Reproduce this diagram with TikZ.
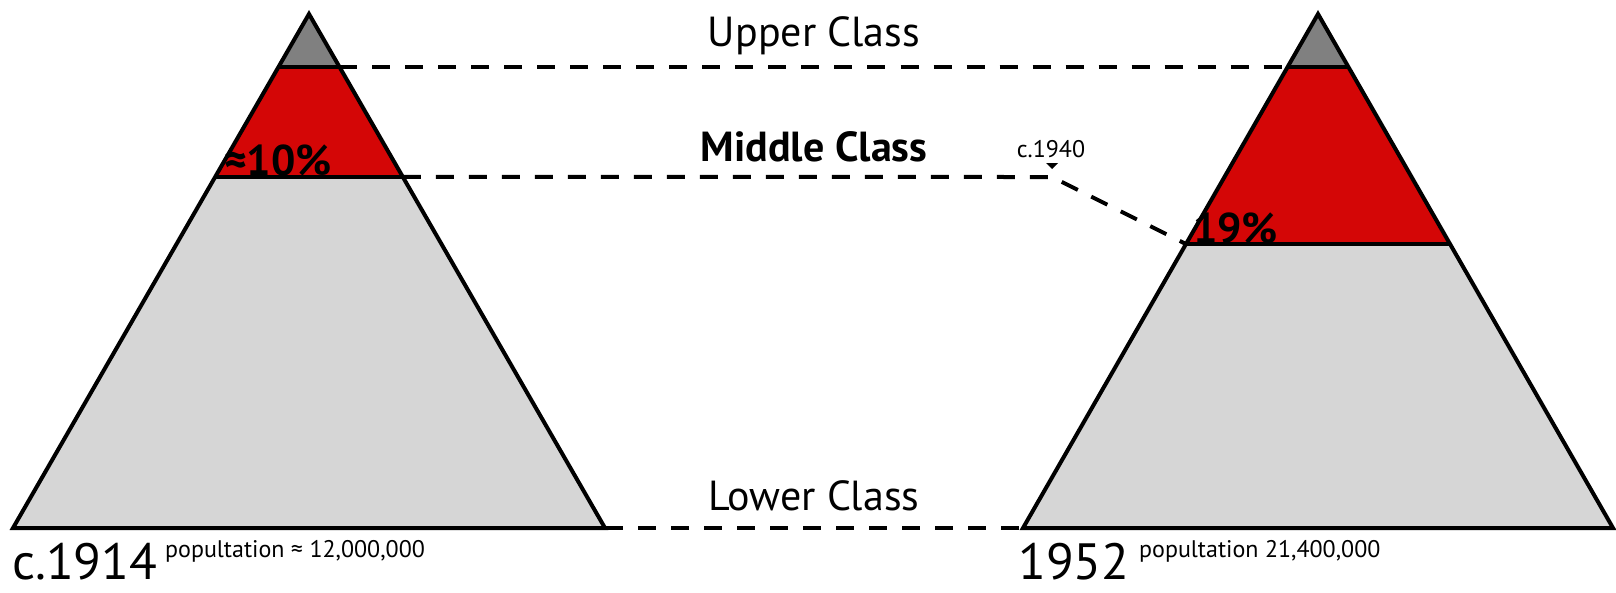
\documentclass[tikz,border=0pt]{standalone}
\usepackage{fontspec}
\setmainfont{PT Sans}
\usetikzlibrary{calc}
\definecolor{upperfill}{RGB}{128,128,128}
\definecolor{middlefill}{RGB}{212,6,6}
\definecolor{lowerfill}{RGB}{214,214,214}
\newcommand{\fillband}[5]{\fill[#1] (#2) -- (#3) -- (#4) -- (#5) -- cycle;}
\newcommand{\pyramidpoints}[5]{% prefix, apex x, base half width, upper cut, middle cut
  \coordinate (#1top) at (#2,14);
  \coordinate (#1bl) at ({#2-#3},528);
  \coordinate (#1br) at ({#2+#3},528);
  \coordinate (#1ul) at ($(#1top)!#4!(#1bl)$);
  \coordinate (#1ur) at ($(#1top)!#4!(#1br)$);
  \coordinate (#1ml) at ($(#1top)!#5!(#1bl)$);
  \coordinate (#1mr) at ($(#1top)!#5!(#1br)$);}

\begin{document}
\begin{tikzpicture}[x=1pt,y=-1pt,
  outline/.style={line width=4pt,line join=miter},
  classline/.style={line width=4pt,dash pattern=on 18pt off 15pt},
  classlabel/.style={anchor=base,inner sep=0pt,font=\fontsize{42}{46}\selectfont},
  sharelabel/.style={anchor=base west,inner sep=0pt,font=\fontsize{43}{47}\selectfont\bfseries},
  yearlabel/.style={anchor=base west,inner sep=0pt,text depth=0pt,font=\fontsize{51}{55}\selectfont},
  poplabel/.style={anchor=base west,inner sep=0pt,font=\fontsize{24}{28}\selectfont}]
\useasboundingbox (0,0) rectangle (1616,592);

% c.1914 and 1952
\pyramidpoints{L}{309}{296}{0.103}{0.317}
\pyramidpoints{R}{1318}{295}{0.103}{0.4475}

\foreach \p in {L,R}{
  \fillband{upperfill}{\p top}{\p ur}{\p ul}{\p top}
  \fillband{middlefill}{\p ul}{\p ur}{\p mr}{\p ml}
  \fillband{lowerfill}{\p ml}{\p mr}{\p br}{\p bl}
  \draw[outline] (\p top) -- (\p br) -- (\p bl) -- cycle;
  \draw[outline] (\p ul) -- (\p ur);
  \draw[outline] (\p ml) -- (\p mr);
}

% dashed class boundaries
\coordinate (bend) at (1052,177);
\draw[classline] (Lur) -- (Rul);
\draw[classline] (Lmr) -- (bend) -- (Rml);
\draw[classline] (Lbr) -- (Rbl);
\fill ($(bend)+(-6,-14)$) -- ++(12,0) -- ++(-6,6) -- cycle;

\node[classlabel] (upper) at (814,46) {Upper Class};
\node[classlabel,font=\fontsize{42}{46}\selectfont\bfseries] (middle) at (814,161) {Middle Class};
\node[classlabel] (lower) at (814,510) {Lower Class};
\node[anchor=base,inner sep=0pt,font=\fontsize{24}{28}\selectfont] (c1940) at (1051,157) {c.1940};

\node[sharelabel] (share14) at (224,175) {≈10\%};
\node[sharelabel] (share52) at (1193,243) {19\%};

\node[yearlabel] (y1914) at (12,579) {c.1914};
\node[poplabel] (p1914) at (165,557) {popultation ≈ 12,000,000};
\node[yearlabel] (y1952) at (1018,579) {1952};
\node[poplabel] (p1952) at (1139,557) {popultation 21,400,000};
\end{tikzpicture}
\end{document}
